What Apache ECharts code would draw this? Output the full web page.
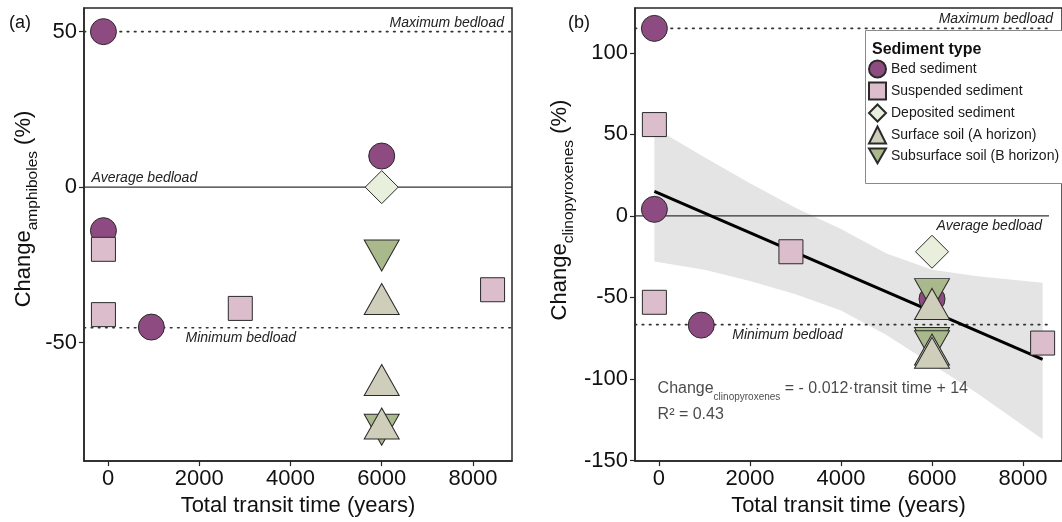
<!DOCTYPE html>
<html><head><meta charset="utf-8">
<script src="https://cdn.jsdelivr.net/npm/echarts@6/dist/echarts.min.js"></script>
<style>html,body{margin:0;padding:0;background:#fff}#c{width:1062px;height:522px}</style>
</head><body><div id="c"></div>
<script>
// ---------- data ----------
const sedimentTypes = ['Bed sediment','Suspended sediment','Deposited sediment','Surface soil (A horizon)','Subsurface soil (B horizon)'];
const xTicks = [0, 2000, 4000, 6000, 8000];
const aYTicks = [-50, 0, 50];
const bYTicks = [-150, -100, -50, 0, 50, 100];

// panel (a) amphiboles: [transit time, change %]
const aBed    = [[-100, 50], [-100, -14], [950, -45], [6000, 10]];
const aSusp   = [[-100, -20], [-100, -41], [2900, -39], [8430, -33]];
const aDep    = [[6000, 0]];
const aSurfA  = [[6000, -36], [6000, -62], [6000, -76]];
const aSubB   = [[6000, -22], [6000, -78]];

// panel (b) clinopyroxenes
const bBed    = [[-100, 115], [-100, 4], [930, -67], [6000, -51]];
const bSusp   = [[-100, 56], [-100, -53], [2900, -22], [8430, -78]];
const bDep    = [[6000, -22]];
const bSurfA  = [[6000, -54], [6000, -82], [6000, -84]];
const bSubB   = [[6000, -48], [6000, -78], [6000, -80]];

// reference bedload levels: max, average, min
const aRefLevels = [50, 0, -45.2];
const bRefLevels = [115, 0, -66.7];
const refNames = ['Maximum bedload', 'Average bedload', 'Minimum bedload'];
const aNoteAt = [[8680, 50], [-360, 0], [1700, -45.2]];
const bNoteAt = [[8660, 115], [8420, 0], [1610, -66.7]];

// regression line and confidence band (panel b)
const fitX = [-100, 8430];
const fitY = [15, -88];
const bandX     = [-100, 1000, 2000, 3000, 4000, 5000, 6000, 7000, 8430];
const bandUpper = [54, 36, 20, 5, -8, -23, -33, -37, -41];
const bandLower = [-28, -33, -40, -48, -58, -73, -91, -109, -137];

const eqLine1At = [-30, -107.5];
const eqLine2At = [-30, -122];

// ---------- styling ----------
const FONT = '"Liberation Sans", Arial, Helvetica, sans-serif';
const symbols = ['circle', 'rect', 'diamond', 'triangle', 'triangle'];
const rotates = [0, 0, 0, 0, 180];
const sizes = [26, 24, 33, [35, 31], [35, 31]];
const fills = ['#8d4b81', '#dcbdcc', '#e8f0dd', '#cfceba', '#a9b98c'];
const legendIcons = ['circle', 'rect', 'diamond', 'triangle', 'path://M0,0L20,0L10,17.3Z'];
const AX = '#262626';

const chart = echarts.init(document.getElementById('c'), null, {renderer: 'canvas'});

function xAxisCfg(gi, max) {
  return {
    type: 'value', gridIndex: gi, min: -526, max: max,
    axisLine: {show: true, onZero: false, lineStyle: {color: AX, width: 1.5}},
    axisTick: {show: true, length: 5, customValues: xTicks, lineStyle: {color: AX, width: 1.2}},
    axisLabel: {customValues: xTicks, fontSize: 22, color: '#111', margin: 7, fontFamily: FONT,
      formatter: v => String(v)},
    splitLine: {show: false},
    name: 'Total transit time (years)', nameLocation: 'middle', nameGap: 33,
    nameTextStyle: {fontSize: 22, color: '#111', fontFamily: FONT}
  };
}
function yAxisCfg(gi, min, max, ticks) {
  return {
    type: 'value', gridIndex: gi, min: min, max: max,
    axisLine: {show: true, onZero: false, lineStyle: {color: AX, width: 1.5}},
    axisTick: {show: true, length: 5, customValues: ticks, lineStyle: {color: AX, width: 1.2}},
    axisLabel: {customValues: ticks, fontSize: 22, color: '#111', margin: 7, fontFamily: FONT,
      formatter: v => String(v)},
    splitLine: {show: false}
  };
}

function pointSeries(gi, arrs) {
  return arrs.map((d, i) => ({
    type: 'scatter', name: sedimentTypes[i], xAxisIndex: gi, yAxisIndex: gi,
    data: d, symbol: symbols[i], symbolRotate: rotates[i], symbolSize: sizes[i],
    itemStyle: {color: fills[i], borderColor: '#2a2a2a', borderWidth: 1, opacity: 1},
    emphasis: {disabled: true}, silent: true, z: 10 + i
  }));
}

function refLineSeries(gi, levels, xmin, xmax) {
  return levels.map((v, i) => ({
    type: 'line', xAxisIndex: gi, yAxisIndex: gi, silent: true,
    data: [[xmin, v], [xmax, v]], symbol: 'none',
    lineStyle: i === 1 ? {color: '#333', width: 1.3, type: 'solid'}
                       : {color: '#333', width: 1.6, type: [1.6, 5.6], cap: 'round'},
    z: 3
  }));
}

const bandSeries = {
  type: 'custom', xAxisIndex: 1, yAxisIndex: 1, silent: true, z: 1,
  data: [[bandX[0], bandUpper[0]]],
  renderItem: function (params, api) {
    const pts = [];
    for (let i = 0; i < bandX.length; i++) pts.push(api.coord([bandX[i], bandUpper[i]]));
    for (let i = bandX.length - 1; i >= 0; i--) pts.push(api.coord([bandX[i], bandLower[i]]));
    return {type: 'polygon', shape: {points: pts}, style: {fill: '#e4e4e4', stroke: null}};
  }
};

const fitSeries = {
  type: 'line', xAxisIndex: 1, yAxisIndex: 1, silent: true, z: 4,
  data: fitX.map((x, i) => [x, fitY[i]]), symbol: 'none',
  lineStyle: {color: '#000', width: 3}
};

const eqRich = {
  m: {fontSize: 16, color: '#1a1a1a', fontFamily: FONT, lineHeight: 22, verticalAlign: 'top'},
  s: {fontSize: 10, color: '#1a1a1a', fontFamily: FONT, lineHeight: 10, verticalAlign: 'bottom'}
};
const eqSeries = [
  {type: 'scatter', xAxisIndex: 1, yAxisIndex: 1, silent: true, symbolSize: 0, z: 20,
   data: [eqLine1At],
   label: {show: true, position: [0, 0], align: 'left', verticalAlign: 'middle',
     formatter: '{m|Change}{s|clinopyroxenes}{m| = - 0.012\u00b7transit time + 14}', rich: eqRich}},
  {type: 'scatter', xAxisIndex: 1, yAxisIndex: 1, silent: true, symbolSize: 0, z: 20,
   data: [eqLine2At],
   label: {show: true, position: [0, 0], align: 'left', verticalAlign: 'middle',
     formatter: 'R\u00b2 = 0.43', fontSize: 16, color: '#1a1a1a', fontFamily: FONT}}
];

function yTitle(x, y, sub) {
  return {
    type: 'text', x: x, y: y, rotation: Math.PI / 2, z: 50,
    style: {
      text: '{m|Change}{s|' + sub + '}{m| (%)}',
      align: 'center', verticalAlign: 'middle',
      rich: {
        m: {fontSize: 22, fill: '#111', fontFamily: FONT, lineHeight: 28, verticalAlign: 'top'},
        s: {fontSize: 15.5, fill: '#111', fontFamily: FONT, lineHeight: 15, verticalAlign: 'bottom'}
      }
    }
  };
}

const baseGraphic = [
  {type: 'rect', z: 25, shape: {x: 865.5, y: 30.5, width: 200, height: 153},
   style: {fill: '#fff', stroke: '#8a8a8a', lineWidth: 1}},
  {type: 'text', z: 31, x: 872, y: 50, style: {text: 'Sediment type', font: 'bold 16px ' + FONT, fill: '#111', verticalAlign: 'middle'}},
  {type: 'text', z: 31, x: 9, y: 23, style: {text: '(a)', font: '18px ' + FONT, fill: '#111', verticalAlign: 'middle'}},
  {type: 'text', z: 31, x: 568, y: 23, style: {text: '(b)', font: '18px ' + FONT, fill: '#111', verticalAlign: 'middle'}},
  yTitle(27, 209, 'amphiboles'),
  yTitle(563, 210, 'clinopyroxenes')
];

const ptsA = pointSeries(0, [aBed, aSusp, aDep, aSurfA, aSubB]);
const ptsB = pointSeries(1, [bBed, bSusp, bDep, bSurfA, bSubB]);
// down-triangles drawn below up-triangles
ptsA[3].z = 14; ptsA[4].z = 13; ptsB[3].z = 14; ptsB[4].z = 13;

const option = {
  animation: false,
  backgroundColor: '#fff',
  textStyle: {fontFamily: FONT},
  grid: [
    {left: 84, right: 550, top: 8, bottom: 60, show: true, borderColor: AX, borderWidth: 1.5, backgroundColor: 'transparent'},
    {left: 635, right: -2, top: 8, bottom: 60, show: true, borderColor: AX, borderWidth: 1.5, backgroundColor: 'transparent'}
  ],
  xAxis: [xAxisCfg(0, 8856), xAxisCfg(1, 8856)],
  yAxis: [yAxisCfg(0, -88.1, 57.6, aYTicks), yAxisCfg(1, -150.4, 127.5, bYTicks)],
  legend: {
    data: sedimentTypes.map((n, i) => ({name: n, icon: legendIcons[i]})),
    orient: 'vertical', left: 868, top: 59.5, padding: 0,
    itemWidth: 17, itemHeight: 17, itemGap: 3, selectedMode: false, z: 30,
    textStyle: {fontSize: 14, color: '#1a1a1a', fontFamily: FONT}
  },
  graphic: baseGraphic,
  series: [].concat(
    refLineSeries(0, aRefLevels, -526, 8856),
    [bandSeries, fitSeries],
    refLineSeries(1, bRefLevels, -526, 8570),
    eqSeries, ptsA, ptsB
  )
};
chart.setOption(option);

// reference-line annotations placed through the axes' scales
function notes(gi, at, aligns) {
  return at.map((p, i) => {
    const px = chart.convertToPixel({gridIndex: gi}, p);
    const below = aligns[i][1] === 'top';
    return {type: 'text', z: 32, x: px[0], y: px[1] + (below ? 3 : -2),
      style: {text: refNames[i], font: 'italic 14px ' + FONT, fill: '#222',
        align: aligns[i][0], verticalAlign: aligns[i][1]}};
  });
}
chart.setOption({graphic: baseGraphic.concat(
  notes(0, aNoteAt, [['right', 'bottom'], ['left', 'bottom'], ['left', 'top']]),
  notes(1, bNoteAt, [['right', 'bottom'], ['right', 'top'], ['left', 'top']])
)});
</script>
</body></html>
